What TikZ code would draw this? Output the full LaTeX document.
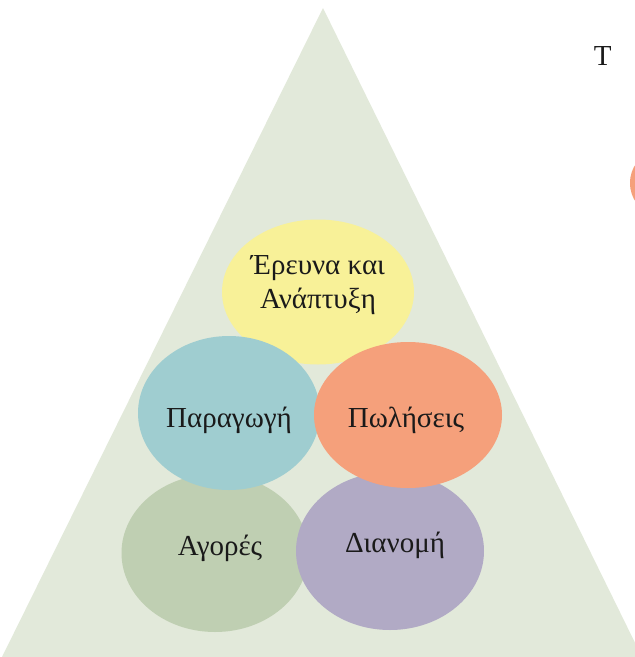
\documentclass[tikz,border=0pt]{standalone}
\usepackage{fontspec}
\setmainfont{Liberation Serif}
\usetikzlibrary{shapes.geometric}
\definecolor{trifill}{HTML}{E2E9DA}
\definecolor{cyellow}{HTML}{F8F198}
\definecolor{cteal}{HTML}{9FCDD0}
\definecolor{corange}{HTML}{F5A07B}
\definecolor{cgreen}{HTML}{BFCFB2}
\definecolor{cpurple}{HTML}{B1AAC5}
\definecolor{ctext}{HTML}{1A1A1A}
\tikzset{
  bubble/.style={ellipse, draw=none, inner sep=0pt, align=center, text=ctext,
    font=\fontsize{29}{34}\selectfont},
}
\begin{document}
\begin{tikzpicture}[x=1pt,y=-1pt]
\useasboundingbox (0,0) rectangle (635,657);
\clip (0,0) rectangle (635,657);
\fill[white] (0,0) rectangle (635,657);
% pyramid
\fill[trifill] (323,8) -- (642,657) -- (2,657) -- cycle;
% circles, back to front
\node[bubble, fill=cyellow, minimum width=192pt, minimum height=145pt] (rd) at (318,292) {};
\node[bubble, fill=cgreen, minimum width=187pt, minimum height=158pt] (ag) at (215,553) {};
\node[bubble, fill=cpurple, minimum width=188pt, minimum height=158pt] (di) at (390,551) {};
\node[bubble, fill=cteal, minimum width=182pt, minimum height=154pt] (pa) at (229,413) {};
\node[bubble, fill=corange, minimum width=188pt, minimum height=146pt] (po) at (408,415) {};
% labels
\node[bubble] (rdt) at (318,285) {Έρευνα και\\Ανάπτυξη};
\node[bubble] (pat) at (229,420) {Παραγωγή};
\node[bubble] (pot) at (406,420) {Πωλήσεις};
\node[bubble] (agt) at (220,548) {Αγορές};
\node[bubble] (dit) at (395,545) {Διανομή};
% cut-off elements at right edge
\node[bubble, anchor=west] (tt) at (590,56) {Τ};
\node[bubble, fill=corange, minimum width=44pt, minimum height=56pt] (edge) at (652,183) {};
\end{tikzpicture}
\end{document}
